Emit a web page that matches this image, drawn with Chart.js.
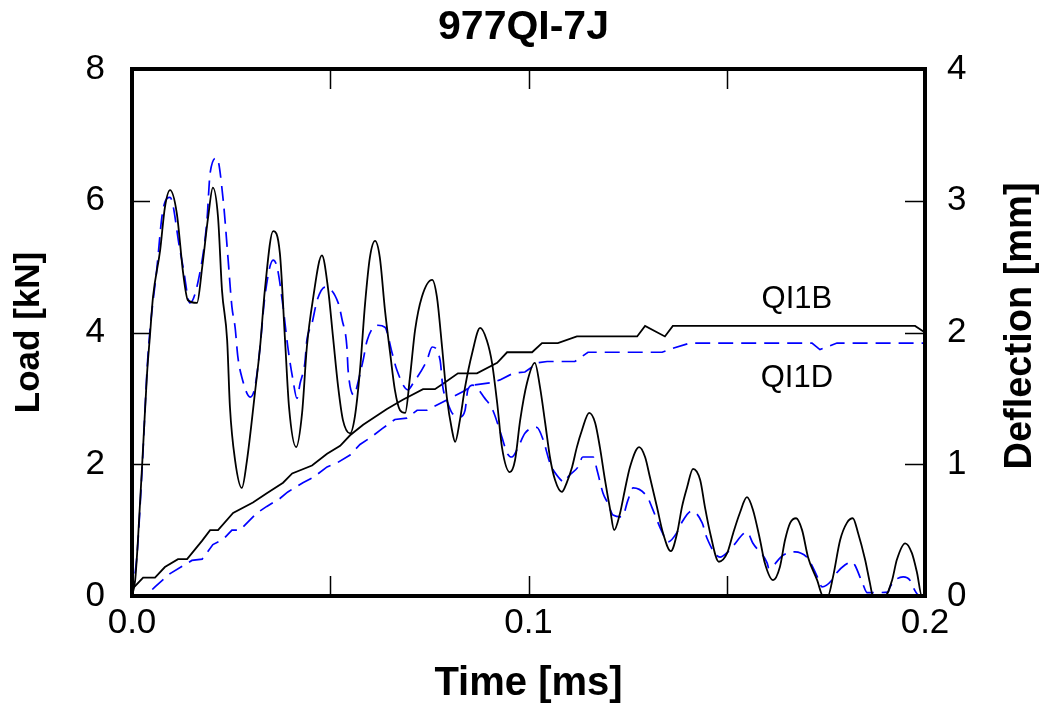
<!DOCTYPE html>
<html>
<head>
<meta charset="utf-8">
<title>977QI-7J</title>
<script src="https://cdn.jsdelivr.net/npm/chart.js@4.4.1/dist/chart.umd.min.js"></script>
<style>
  html,body{margin:0;padding:0;background:#fff;}
  #wrap{width:1047px;height:711px;}
</style>
</head>
<body>
<div id="wrap"><canvas id="chart" width="1047" height="711"></canvas></div>
<script>
// time in ms, load in kN, deflection in mm
const timeLoadB = [0,0.0008,0.0015,0.0028,0.0038,0.0045,0.0053,0.0071,0.0083,0.0096,
  0.0113,0.0129,0.0141,0.0164,0.0177,0.0192,0.0204,0.0217,0.0227,0.0240,
  0.0247,0.0260,0.0277,0.0290,0.0310,0.0323,0.0335,0.0356,0.0373,0.0386,
  0.0396,0.0414,0.0429,0.0441,0.0456,0.0479,0.0494,0.0507,0.0520,0.0532,
  0.0550,0.0562,0.0575,0.0588,0.0600,0.0613,0.0625,0.0638,0.0651,0.0663,
  0.0676,0.0689,0.0701,0.0714,0.0731,0.0757,0.0769,0.0782,0.0794,0.0807,
  0.0815,0.0827,0.0840,0.0858,0.0878,0.0895,0.0908,0.0921,0.0933,0.0953,
  0.0966,0.0979,0.0996,0.1016,0.1029,0.1042,0.1054,0.1067,0.1084,0.1097,
  0.1110,0.1122,0.1135,0.1153,0.1168,0.1180,0.1193,0.1206,0.1216,0.1231,
  0.1243,0.1256,0.1279,0.1294,0.1306,0.1324,0.1339,0.1359,0.1375,0.1387,
  0.1400,0.1415,0.1433,0.1445,0.1458,0.1480,0.1501,0.1516,0.1533,0.1551,
  0.1566,0.1584,0.1596,0.1617,0.1634,0.1647,0.1660,0.1675,0.1690,0.1705,
  0.1728,0.1743,0.1755,0.1768,0.1786,0.1803,0.1818,0.1831,0.1849,0.1861,
  0.1869,0.1899,0.1917,0.1929,0.1950,0.1967,0.1980,0.1992,0.2000];
const loadB = [0,0.24,0.85,2.26,3.38,3.93,4.54,5.25,5.90,6.16,
  5.81,4.90,4.49,4.45,4.99,5.75,6.20,5.75,4.64,3.88,
  2.87,2.06,1.64,2.06,3.08,3.78,4.64,5.54,5.20,3.88,
  2.87,2.26,2.78,3.78,4.49,5.17,4.69,3.93,3.17,2.67,
  2.47,2.72,3.43,4.45,5.14,5.39,5.14,4.34,3.69,3.13,
  2.82,2.78,3.32,4.04,4.54,4.80,4.54,3.78,3.02,2.52,
  2.34,2.67,3.17,3.69,4.07,3.88,3.54,2.93,2.26,1.88,
  2.06,2.67,3.23,3.54,3.17,2.63,2.11,1.76,1.58,1.73,
  1.96,2.26,2.52,2.78,2.63,2.26,1.76,1.31,1.00,1.26,
  1.61,1.96,2.26,2.11,1.81,1.35,0.96,0.68,0.96,1.35,
  1.65,1.93,1.76,1.35,0.96,0.52,0.65,0.95,1.26,1.50,
  1.31,0.85,0.50,0.24,0.44,0.85,1.11,1.18,1.00,0.59,
  0.24,0,0,0.29,0.85,1.11,1.18,0.96,0.55,0.20,
  0,0,0.24,0.55,0.80,0.65,0.35,0,0];

const timeLoadD = [0,0.0013,0.0025,0.0040,0.0063,0.0078,0.0096,0.0121,0.0129,0.0146,
  0.0171,0.0189,0.0197,0.0214,0.0230,0.0242,0.0252,0.0260,0.0267,0.0277,
  0.0298,0.0310,0.0323,0.0335,0.0356,0.0366,0.0381,0.0393,0.0406,0.0416,
  0.0424,0.0436,0.0441,0.0454,0.0467,0.0487,0.0520,0.0530,0.0542,0.0545,
  0.0562,0.0567,0.0583,0.0593,0.0620,0.0638,0.0656,0.0668,0.0696,0.0709,
  0.0744,0.0757,0.0777,0.0784,0.0794,0.0807,0.0827,0.0840,0.0847,0.0860,
  0.0890,0.0910,0.0933,0.0946,0.0958,0.0974,0.0991,0.1021,0.1037,0.1054,
  0.1067,0.1092,0.1100,0.1125,0.1137,0.1163,0.1173,0.1188,0.1200,0.1213,
  0.1236,0.1251,0.1264,0.1301,0.1311,0.1337,0.1352,0.1375,0.1387,0.1412,
  0.1438,0.1450,0.1483,0.1503,0.1516,0.1551,0.1566,0.1602,0.1606,0.1642,
  0.1672,0.1702,0.1710,0.1730,0.1740,0.1765,0.1773,0.1798,0.1816,0.1823,
  0.1844,0.1854,0.1907,0.1912,0.1945,0.1962,0.1967,0.1987,0.2000];
const loadD = [0,0.65,1.87,3.63,4.99,5.86,6.05,5.25,4.99,4.45,
  4.90,5.70,6.42,6.65,6.01,5.14,4.39,4.08,3.63,3.32,
  3.02,3.17,3.78,4.54,5.10,4.99,4.39,3.78,3.28,3.00,
  3.23,3.54,3.88,4.14,4.49,4.69,4.45,4.19,3.78,3.43,
  3.05,3.17,3.58,3.88,4.11,4.08,3.69,3.43,3.13,3.23,
  3.58,3.78,3.58,3.17,2.97,2.78,2.72,2.82,3.13,3.20,
  3.00,2.82,2.41,2.17,2.11,2.26,2.47,2.56,2.37,2.02,
  1.87,1.73,1.81,1.96,2.11,2.11,1.91,1.56,1.41,1.23,
  1.20,1.46,1.64,1.49,1.35,0.97,0.82,0.97,1.12,1.29,
  1.11,0.88,0.59,0.67,0.76,0.97,0.80,0.50,0.42,0.62,
  0.67,0.59,0.52,0.27,0.14,0.24,0.32,0.47,0.52,0.47,
  0.17,0.05,0.06,0.14,0.29,0.24,0.17,0,0];

const timeDeflB = [0,0.0028,0.0058,0.0083,0.0116,0.0139,0.0177,0.0197,0.0217,0.0255,
  0.0305,0.0340,0.0381,0.0404,0.0454,0.0492,0.0525,0.0550,0.0583,0.0643,
  0.0683,0.0734,0.0764,0.0789,0.0822,0.0870,0.0921,0.0946,0.1009,0.1034,
  0.1074,0.1122,0.1274,0.1294,0.1344,0.1364,0.1975,0.2000];
const deflB = [0.05,0.14,0.14,0.22,0.28,0.28,0.42,0.50,0.50,0.63,
  0.71,0.78,0.86,0.93,0.99,1.08,1.14,1.22,1.30,1.42,
  1.49,1.57,1.57,1.62,1.69,1.69,1.77,1.85,1.85,1.92,
  1.92,1.97,1.97,2.05,1.97,2.05,2.05,2.00];

const timeDeflD = [0,0.0035,0.0058,0.0096,0.0151,0.0177,0.0204,0.0230,0.0252,0.0272,
  0.0315,0.0340,0.0373,0.0393,0.0431,0.0457,0.0492,0.0517,0.0550,0.0575,
  0.0605,0.0631,0.0663,0.0693,0.0719,0.0744,0.0840,0.0858,0.0908,0.0928,
  0.0961,0.0991,0.1024,0.1047,0.1117,0.1150,0.1337,0.1364,0.1407,0.1715,
  0.1735,0.1778,0.2000];
const deflD = [0,0,0.07,0.17,0.27,0.28,0.39,0.43,0.50,0.50,
  0.63,0.68,0.74,0.79,0.86,0.90,0.98,1.01,1.07,1.15,
  1.21,1.27,1.34,1.35,1.41,1.41,1.56,1.60,1.62,1.64,
  1.69,1.70,1.77,1.78,1.78,1.85,1.85,1.88,1.92,1.92,
  1.87,1.92,1.92];

const seriesLabels = ['QI1B', 'QI1D'];
// where the two curve names sit: [time, deflection]
const labelSpots = [[0.1677, 2.25], [0.1677, 1.65]];

const FONT = '"Liberation Sans", Arial, Helvetica, sans-serif';
Chart.defaults.font.family = FONT;
Chart.defaults.color = '#000';

const pts = (xs, ys) => xs.map((x, i) => ({x: x, y: ys[i]}));
const near = (v, t) => Math.abs(v - t) < 1e-9;

const frame = {
  id: 'frame',
  afterDatasetsDraw(c){
    const ctx = c.ctx, a = c.chartArea, sx = c.scales.x, sy = c.scales.y, sy1 = c.scales.y1;
    ctx.save();
    ctx.strokeStyle = '#000';
    ctx.lineWidth = 1.5;
    ctx.beginPath();
    sx.ticks.forEach(t => {
      if (near(t.value, 0) || near(t.value, 0.2)) return;
      const px = Math.round(sx.getPixelForValue(t.value)) + 0.5;
      ctx.moveTo(px, a.bottom); ctx.lineTo(px, a.bottom - 20);
      ctx.moveTo(px, a.top); ctx.lineTo(px, a.top + 20);
    });
    sy.ticks.forEach(t => {
      if (near(t.value, 0) || near(t.value, 8)) return;
      const py = Math.round(sy.getPixelForValue(t.value)) + 0.5;
      ctx.moveTo(a.left, py); ctx.lineTo(a.left + 18, py);
    });
    sy1.ticks.forEach(t => {
      if (near(t.value, 0) || near(t.value, 4)) return;
      const py = Math.round(sy1.getPixelForValue(t.value)) + 0.5;
      ctx.moveTo(a.right, py); ctx.lineTo(a.right - 20, py);
    });
    ctx.stroke();

    ctx.lineWidth = 4;
    ctx.strokeRect(a.left, a.top, a.right - a.left, a.bottom - a.top);

    ctx.fillStyle = '#000';
    ctx.textAlign = 'center';
    ctx.textBaseline = 'middle';
    ctx.font = '31px ' + FONT;
    seriesLabels.forEach((s, i) => {
      ctx.fillText(s, sx.getPixelForValue(labelSpots[i][0]), sy1.getPixelForValue(labelSpots[i][1]));
    });

    // right axis title reads bottom to top like the left one
    ctx.font = 'bold 38px ' + FONT;
    ctx.translate(1021, 326);
    ctx.rotate(-Math.PI / 2);
    ctx.fillText('Deflection [mm]', 0, 0);
    ctx.restore();
  }
};

new Chart(document.getElementById('chart'), {
  type: 'line',
  data: {
    datasets: [
      {label: 'Load QI1B', data: pts(timeLoadB, loadB), yAxisID: 'y', borderColor: '#000', borderWidth: 1.8, cubicInterpolationMode: 'monotone'},
      {label: 'Load QI1D', data: pts(timeLoadD, loadD), yAxisID: 'y', borderColor: '#0000ff', borderWidth: 1.7, borderDash: [15, 8], cubicInterpolationMode: 'monotone'},
      {label: 'Deflection QI1B', data: pts(timeDeflB, deflB), yAxisID: 'y1', borderColor: '#000', borderWidth: 1.8},
      {label: 'Deflection QI1D', data: pts(timeDeflD, deflD), yAxisID: 'y1', borderColor: '#0000ff', borderWidth: 1.7, borderDash: [15, 8]}
    ]
  },
  options: {
    responsive: false,
    animation: false,
    events: [],
    elements: {point: {radius: 0}, line: {tension: 0, fill: false}},
    plugins: {
      legend: {display: false},
      tooltip: {enabled: false},
      title: {display: true, text: '977QI-7J', color: '#000', font: {size: 41, weight: 'bold'}, padding: {top: 3, bottom: 16.8}}
    },
    scales: {
      x: {
        type: 'linear', min: 0, max: 0.2,
        grid: {display: false, drawTicks: false}, border: {display: false},
        ticks: {stepSize: 0.05, maxRotation: 0, autoSkip: false, padding: 6, font: {size: 35},
          callback: v => near(v * 10, Math.round(v * 10)) ? v.toFixed(1) : ''},
        title: {display: true, text: 'Time [ms]', font: {size: 40, weight: 'bold'}, padding: {top: 0, bottom: 3}},
        afterFit: s => { s.height = 115; s.paddingLeft = 0; s.paddingRight = 0; }
      },
      y: {
        position: 'left', min: 0, max: 8,
        grid: {display: false, drawTicks: false}, border: {display: false},
        ticks: {stepSize: 2, padding: 27, font: {size: 35}},
        title: {display: true, text: 'Load [kN]', font: {size: 35, weight: 'bold'}, padding: {top: 8, bottom: 0}},
        afterFit: s => { s.width = 132; s.paddingTop = 0; s.paddingBottom = 0; }
      },
      y1: {
        position: 'right', min: 0, max: 4,
        grid: {display: false, drawTicks: false}, border: {display: false},
        ticks: {stepSize: 1, padding: 22, font: {size: 35}},
        afterFit: s => { s.width = 122; s.paddingTop = 0; s.paddingBottom = 0; }
      }
    }
  },
  plugins: [frame]
});
</script>
</body>
</html>
